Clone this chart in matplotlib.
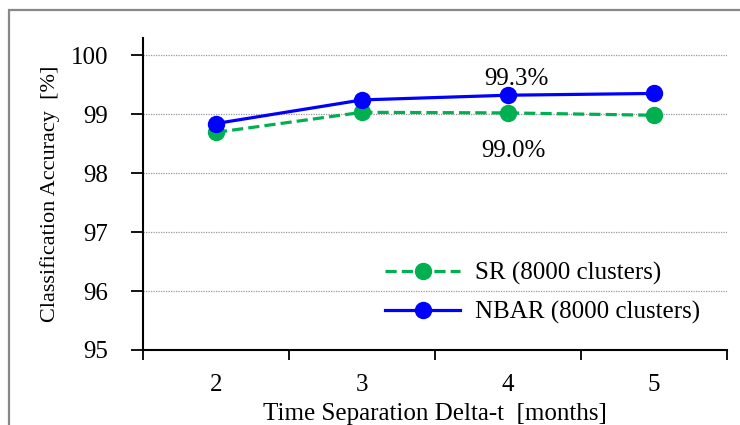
import matplotlib.pyplot as plt
from matplotlib.patches import Rectangle

plt.rcParams['font.family'] = ['Liberation Serif', 'DejaVu Serif']

# data
months = [2, 3, 4, 5]
sr = [98.69, 99.03, 99.02, 98.98]
nbar = [98.84, 99.24, 99.32, 99.35]
sr_label = 'SR (8000 clusters)'
nbar_label = 'NBAR (8000 clusters)'

fig = plt.figure(figsize=(7.4, 4.25), dpi=100)
ax = fig.add_axes([143/740, 1-350/425, 584/740, 312/425])

# grey frame round the figure (only top and left are in view)
fig.patches.append(Rectangle((9/740, -0.5), 2, 1.5 - 10/425, transform=fig.transFigure,
                             fill=False, edgecolor='#888888', linewidth=1.6))

ax.plot(months, sr, color='#00B050', linestyle=(0, (3.5, 1.6)), linewidth=2.3,
        marker='o', markersize=11.5, label=sr_label)
ax.plot(months, nbar, color='#0000FF', linewidth=2.3,
        marker='o', markersize=11.5, label=nbar_label)

ax.set_xlim(1.5, 5.5)
ax.set_ylim(95, 100.29)
ax.set_yticks([95, 96, 97, 98, 99, 100])
ax.set_xticks(months)
ax.set_xticks([1.5, 2.5, 3.5, 4.5, 5.5], minor=True)
ax.tick_params(axis='x', which='major', length=0, labelsize=18, pad=17)
ax.tick_params(axis='x', which='minor', length=7, width=1.3)
ax.tick_params(axis='y', length=9, width=1.3, labelsize=18, pad=16)

for v in [96, 97, 98, 99, 100]:
    ax.axhline(v, color='#999999', linestyle=(0, (1, 1)), linewidth=0.9, zorder=0)

ax.spines['top'].set_visible(False)
ax.spines['right'].set_visible(False)
ax.spines['left'].set_linewidth(1.5)
ax.spines['bottom'].set_linewidth(1.5)

ax.text(4.055, 99.6, '99.3%', fontsize=18, ha='center', va='center')
ax.text(4.04, 98.37, '99.0%', fontsize=18, ha='center', va='center')

ax.set_xlabel('Time Separation Delta-t  [months]', fontsize=18, labelpad=5)
ax.set_ylabel('Classification Accuracy  [%]', fontsize=16, labelpad=8)

ax.legend(loc='upper left', bbox_to_anchor=((385-143)/584, 0.282), frameon=False,
          fontsize=18, handlelength=3.0, handletextpad=0.6, labelspacing=0.62,
          borderaxespad=0, borderpad=0)

fig.savefig('out.png', dpi=100)
